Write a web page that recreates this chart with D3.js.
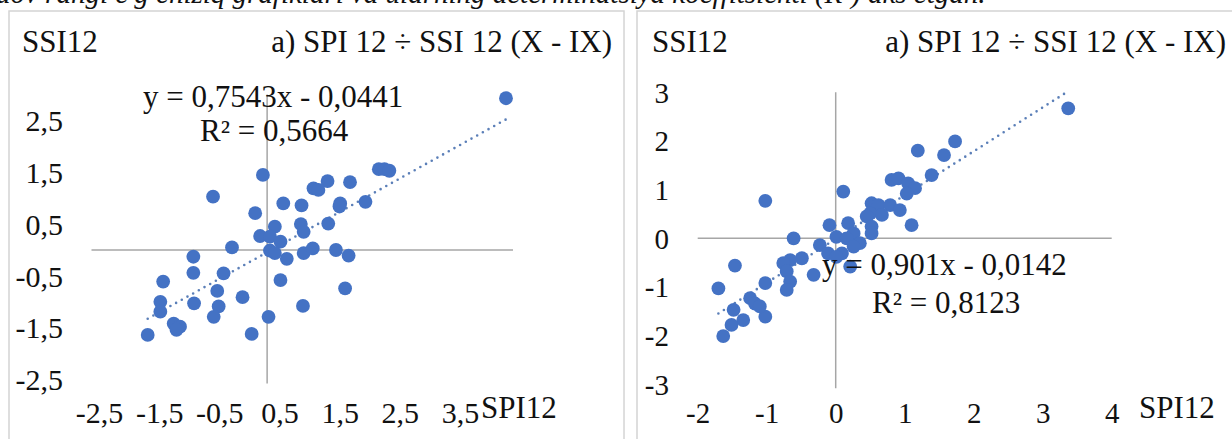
<!DOCTYPE html>
<html><head><meta charset="utf-8">
<script src="https://cdn.jsdelivr.net/npm/d3@7"></script>
<style>
html,body{margin:0;padding:0;background:#fff;overflow:hidden}
svg{display:block}
text{font-family:"Liberation Serif","Times New Roman",serif !important;fill:#111}
</style></head>
<body><svg id="c" width="1232" height="439"></svg>
<script>
// ---- data ----
const leftSPI = [3.40,1.59,1.67,1.74,-0.06,-0.77,1.18,0.86,0.66,0.73,1.04,1.03,1.40,0.23,0.49,-0.17,0.87,0.48,0.52,0.11,-0.10,0.04,0.19,-0.50,0.04,0.11,0.28,0.52,0.65,0.98,1.16,-1.05,-1.05,-0.62,-1.48,-0.71,0.19,1.11,-0.35,-1.52,-1.04,-0.69,-1.52,-0.76,0.51,0.02,-1.33,-1.24,-1.29,-1.70,-0.22];
const leftSSI = [2.93,1.56,1.56,1.53,1.45,1.03,1.31,1.33,1.19,1.16,0.90,0.84,0.93,0.90,0.86,0.71,0.51,0.50,0.35,0.45,0.27,0.26,0.16,0.05,-0.01,-0.06,-0.17,-0.06,0.03,0.00,-0.11,-0.13,-0.44,-0.45,-0.61,-0.79,-0.58,-0.74,-0.91,-1.00,-1.03,-1.09,-1.19,-1.29,-1.08,-1.29,-1.42,-1.48,-1.54,-1.64,-1.62];
const rightSPI = [3.37,1.73,1.57,1.19,1.39,0.81,0.91,1.05,1.15,1.03,0.11,-1.02,0.52,0.62,0.79,0.93,0.50,0.45,0.67,1.10,0.18,-0.09,0.52,0.52,0.26,0.01,0.16,-0.61,0.35,0.26,-0.23,-0.11,0.09,0.01,0.21,-0.49,-0.66,-0.76,-0.32,-1.46,-0.71,-0.66,-0.71,-1.02,-1.70,-1.24,-1.17,-1.48,-1.34,-1.51,-1.02,-1.63,-1.10];
const rightSSI = [2.67,1.99,1.71,1.80,1.30,1.20,1.23,1.13,1.03,0.92,0.96,0.77,0.72,0.68,0.68,0.58,0.51,0.45,0.48,0.27,0.31,0.27,0.24,0.10,0.10,0.03,0.00,0.00,-0.10,-0.17,-0.14,-0.31,-0.31,-0.38,-0.58,-0.41,-0.45,-0.51,-0.75,-0.56,-0.68,-0.89,-1.06,-0.92,-1.03,-1.23,-1.34,-1.47,-1.68,-1.78,-1.61,-2.01,-1.40];
const leftXTicks = [-2.5,-1.5,-0.5,0.5,1.5,2.5,3.5];
const leftYTicks = [2.5,1.5,0.5,-0.5,-1.5,-2.5];
const rightXTicks = [-2,-1,0,1,2,3,4];
const rightYTicks = [3,2,1,0,-1,-2,-3];
const leftFit = [0.7543, -0.0441];   // slope, intercept
const rightFit = [0.901, -0.0142];
const leftR2 = "0,5664", rightR2 = "0,8123";
const yTitle = "SSI12", xTitle = "SPI12";
const panelTitle = "a) SPI 12 ÷ SSI 12 (X - IX)";
const captionText = "dov rangi e'g chiziq grafiklari va ularning determinatsiya koeffitsienti (R²) aks etgan.";

const fmt = v => String(v).replace('.', ',');
const fmtCoef = v => v.toFixed(String(Math.abs(v)).split('.')[1].length).replace('.', ',');
const svg = d3.select('#c');
const BLUE = '#4472C4';
const SERIF = '"Liberation Serif", "Times New Roman", serif';

// clipped caption line at the top
svg.append('text').attr('x', -4).attr('y', 3).attr('font-size', 29).attr('font-style','italic').text(captionText);

function panel(o){
  const g = svg.append('g');
  g.append('rect').attr('x', o.box[0]).attr('y', o.box[1]).attr('width', o.box[2]).attr('height', o.box[3])
    .attr('fill','#fff').attr('stroke','#d4d4d4').attr('stroke-width',1.5);
  const x = d3.scaleLinear().domain(o.xd).range(o.xr);
  const y = d3.scaleLinear().domain(o.yd).range(o.yr);
  // axis cross lines
  g.append('line').attr('x1', x(o.xd[0])).attr('x2', x(o.xd[1])).attr('y1', y(0)).attr('y2', y(0))
    .attr('stroke','#a6a6a6').attr('stroke-width',1.5);
  g.append('line').attr('x1', x(0)).attr('x2', x(0)).attr('y1', y(o.yd[0]) + 4).attr('y2', y(o.yd[1]))
    .attr('stroke','#a6a6a6').attr('stroke-width',1.5);
  // tick labels
  const xl = d3.scaleLinear().domain([o.xTicks[0], o.xTicks[o.xTicks.length-1]]).range(o.xLabelRange);
  const ax = g.append('g').attr('transform', `translate(0,${o.xLabelY})`)
    .call(d3.axisBottom(xl).tickValues(o.xTicks).tickSize(0).tickPadding(0).tickFormat(fmt));
  ax.attr('font-family', null).attr('font-size', null);
  ax.select('.domain').remove();
  ax.selectAll('text').style('font-family', SERIF).style('font-size', o.tickFont + 'px').attr('fill','#111').attr('dy', 0);
  const ay = g.append('g').attr('transform', `translate(${o.yLabelX},0)`)
    .call(d3.axisLeft(y).tickValues(o.yTicks).tickSize(0).tickPadding(0).tickFormat(fmt));
  ay.attr('font-family', null).attr('font-size', null);
  ay.select('.domain').remove();
  ay.selectAll('text').style('font-family', SERIF).style('font-size', o.tickFont + 'px').attr('fill','#111').attr('dy','0.34em');
  // trendline
  const ext = d3.extent(o.xs);
  const line = d3.line().x(d => x(d)).y(d => y(o.fit[0]*d + o.fit[1]));
  g.append('path').attr('d', line(ext)).attr('fill','none').attr('stroke','#5b7fb8')
    .attr('stroke-width',2.6).attr('stroke-dasharray','0 6.5').attr('stroke-linecap','round');
  // points
  g.selectAll('circle.p').data(o.xs.map((v,i)=>[v,o.ys[i]])).join('circle')
    .attr('cx', d=>x(d[0])).attr('cy', d=>y(d[1])).attr('r', 6.9).attr('fill', BLUE);
  // texts
  g.append('text').attr('x', o.yTitleX).attr('y', 52).attr('font-size', o.titleFont).text(yTitle);
  g.append('text').attr('x', o.titleRight).attr('y', 52).attr('font-size', o.titleFont).attr('text-anchor','end').text(panelTitle);
  g.append('text').attr('x', o.xTitleX).attr('y', o.xLabelY - 5).attr('font-size', o.titleFont).text(xTitle);
  const sign = o.fit[1] < 0 ? ' - ' : ' + ';
  g.append('text').attr('x', o.eq[0]).attr('y', o.eq[1]).attr('font-size', o.titleFont)
    .text('y = ' + fmtCoef(o.fit[0]) + 'x' + sign + fmtCoef(Math.abs(o.fit[1])));
  g.append('text').attr('x', o.r2[0]).attr('y', o.r2[1]).attr('font-size', o.titleFont).text('R² = ' + o.R2);
}

panel({box:[9,11,615,440], xd:[-2.5,3.5], xr:[91.5,513], yd:[-2.5,3], yr:[379.5,94.6],
  xs:leftSPI, ys:leftSSI, fit:leftFit, R2:leftR2, xTicks:leftXTicks, yTicks:leftYTicks,
  xLabelRange:[99,460], xLabelY:423, yLabelX:63, tickFont:30, titleFont:31,
  yTitleX:22, titleRight:612, xTitleX:481, eq:[143,107], r2:[200,141]});
panel({box:[637,11,610,440], xd:[-2,4], xr:[697.7,1111.7], yd:[-3,3], yr:[384.3,92.3],
  xs:rightSPI, ys:rightSSI, fit:rightFit, R2:rightR2, xTicks:rightXTicks, yTicks:rightYTicks,
  xLabelRange:[697.7,1111.7], xLabelY:423, yLabelX:669, tickFont:29, titleFont:31,
  yTitleX:652, titleRight:1226, xTitleX:1139, eq:[822,275], r2:[872,313]});
</script></body></html>
